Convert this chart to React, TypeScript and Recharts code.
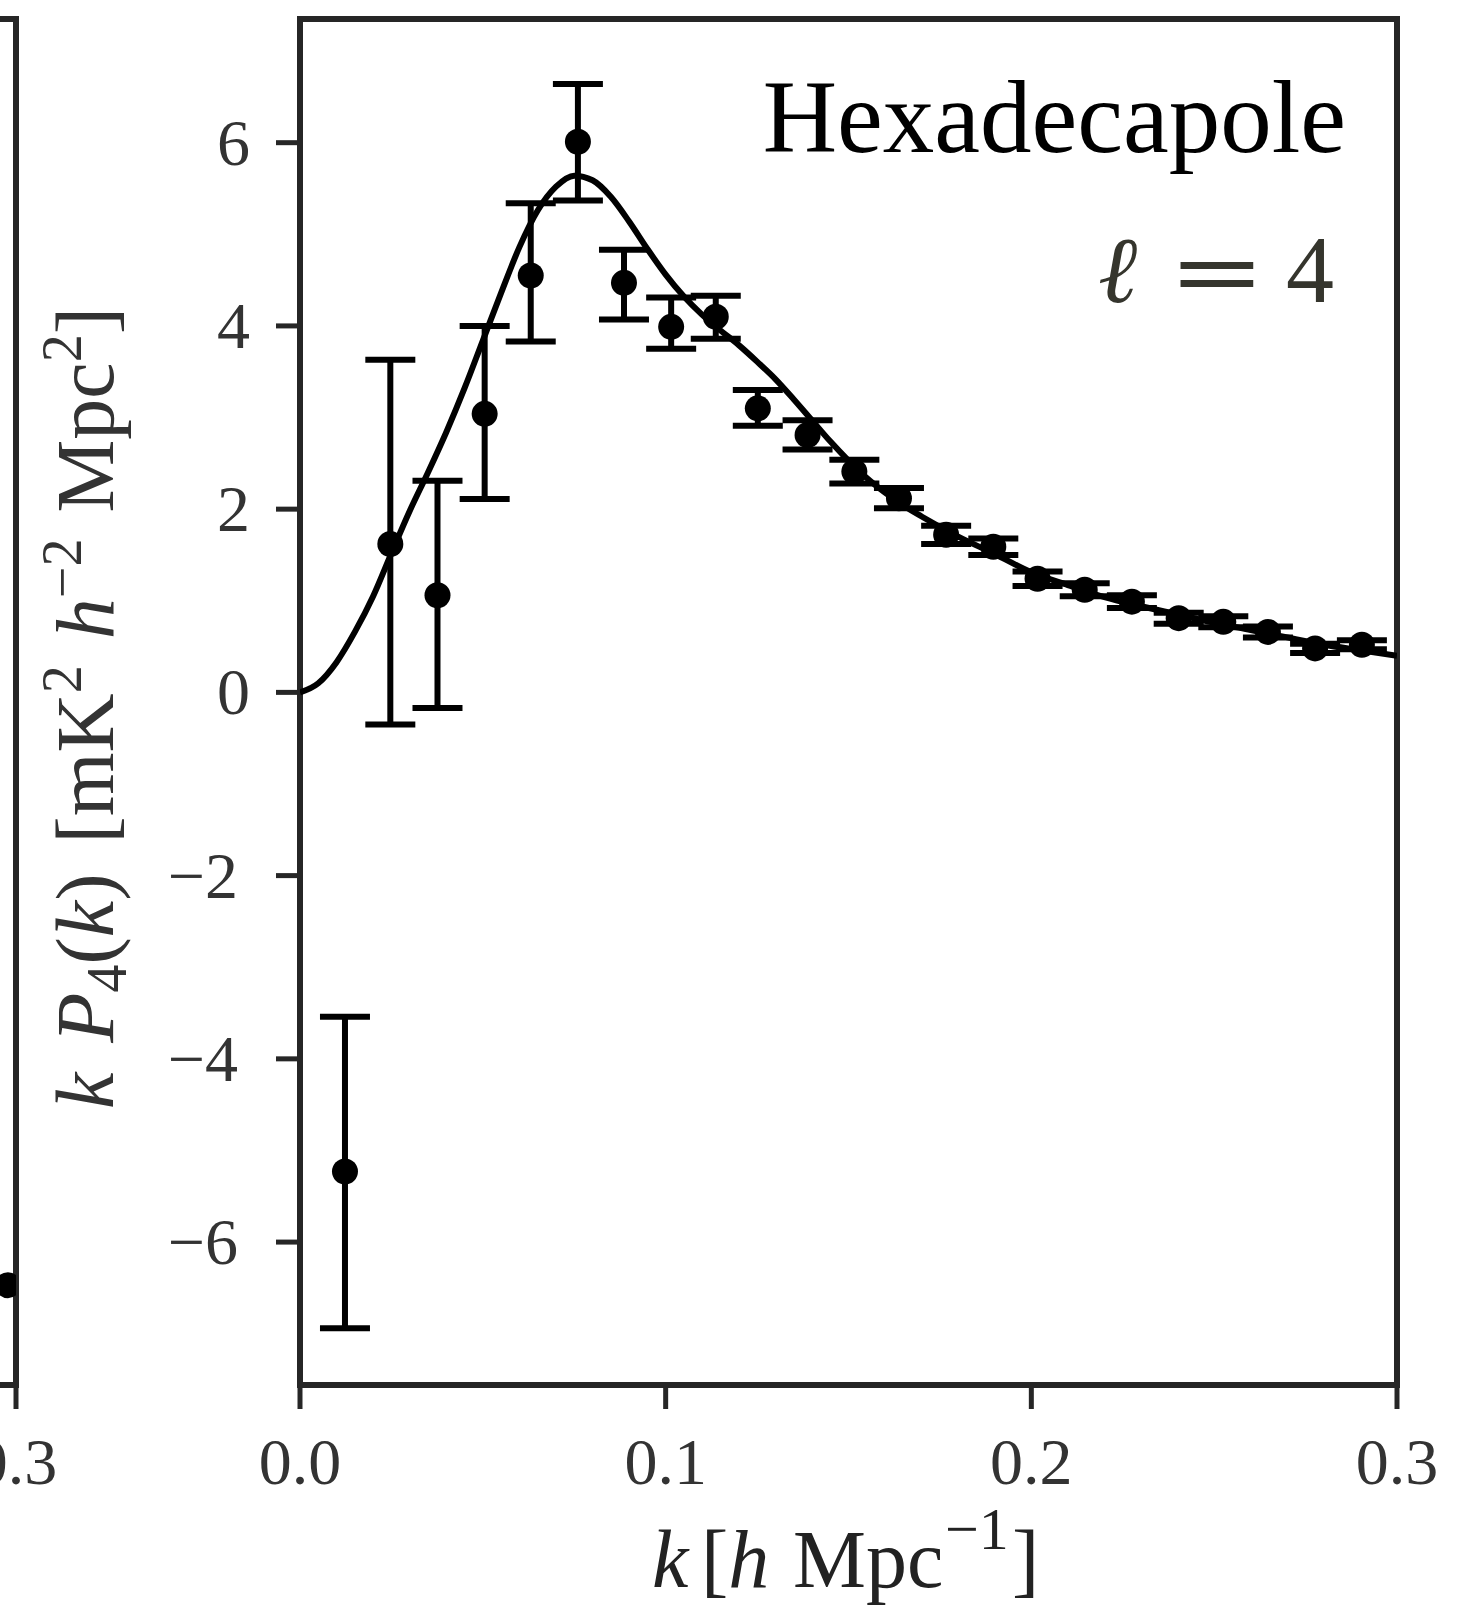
import React from 'react';
import { ComposedChart, Line, Scatter, ErrorBar, XAxis, YAxis, ReferenceArea, Label } from 'recharts';

// measured hexadecapole, k*P4(k)
const kBins = [0.0123, 0.0247, 0.0376, 0.0505, 0.0631, 0.076, 0.0886, 0.1015, 0.1137, 0.1252, 0.1388, 0.1516, 0.1638, 0.1767, 0.1896, 0.2017, 0.2146, 0.2275, 0.2403, 0.2525, 0.2647, 0.2776, 0.2904];
const p4 = [-5.23, 1.62, 1.06, 3.04, 4.55, 6.01, 4.47, 3.99, 4.1, 3.1, 2.81, 2.41, 2.12, 1.72, 1.59, 1.24, 1.12, 0.99, 0.81, 0.77, 0.66, 0.48, 0.52];
const errLow = [1.71, 1.97, 1.23, 0.93, 0.72, 0.64, 0.4, 0.24, 0.24, 0.19, 0.16, 0.13, 0.11, 0.1, 0.09, 0.08, 0.07, 0.07, 0.06, 0.06, 0.06, 0.05, 0.05];
const errHigh = [1.69, 2.01, 1.25, 0.96, 0.79, 0.63, 0.36, 0.32, 0.23, 0.2, 0.16, 0.13, 0.11, 0.1, 0.09, 0.08, 0.07, 0.07, 0.06, 0.06, 0.06, 0.05, 0.05];

// model curve
const modelK = [0, 0.005, 0.01, 0.015, 0.02, 0.025, 0.03, 0.035, 0.04, 0.045, 0.05, 0.055, 0.06, 0.065, 0.07, 0.075, 0.08, 0.085, 0.09, 0.095, 0.1, 0.105, 0.11, 0.115, 0.12, 0.125, 0.13, 0.135, 0.14, 0.145, 0.15, 0.155, 0.16, 0.165, 0.17, 0.18, 0.19, 0.2, 0.21, 0.22, 0.23, 0.24, 0.25, 0.26, 0.27, 0.28, 0.29, 0.3];
const modelP4 = [0, 0.1, 0.33, 0.66, 1.05, 1.52, 1.98, 2.4, 2.84, 3.32, 3.84, 4.36, 4.86, 5.26, 5.52, 5.64, 5.59, 5.41, 5.14, 4.84, 4.56, 4.32, 4.12, 3.95, 3.79, 3.61, 3.42, 3.2, 2.97, 2.74, 2.53, 2.34, 2.18, 2.04, 1.92, 1.7, 1.51, 1.31, 1.17, 1.04, 0.94, 0.85, 0.76, 0.68, 0.6, 0.52, 0.46, 0.4];

// neighbouring panel, only its right edge is in view
const leftK = [0.2978];
const leftP = [-6.47];

const xTicks = [0, 0.1, 0.2, 0.3];
const yTicks = [-6, -4, -2, 0, 2, 4, 6];
const xDomain: [number, number] = [0, 0.3];
const yDomain: [number, number] = [-7.56, 7.35];

const points = kBins.map((k, i) => ({ k, v: p4[i], err: [errLow[i], errHigh[i]] }));
const model = modelK.map((k, i) => ({ k, v: modelP4[i] }));
const leftPoints = leftK.map((k, i) => ({ k, v: leftP[i] }));

const W = 1471;
const H = 1608;
const margin = { top: 19, right: 74, left: 100, bottom: 103 };
const font = 'Liberation Serif, Times New Roman, serif';
const axisColor = '#262626';
const inkColor = '#35352d';

const tickStyle = { fill: '#333', fontSize: 66, fontFamily: font };
const tickLineStyle = { stroke: axisColor, strokeWidth: 5 };

const YTick = (props: any) => {
  const { x, y, payload } = props;
  const v = payload.value;
  const txt = v < 0 ? `\u2212${Math.abs(v)}` : `${v}`;
  return (
    <text x={v < 0 ? x - 12 : x} y={y} dy={22} textAnchor="end" {...tickStyle}>
      {txt}
    </text>
  );
};

const dot = (p: any) => <circle cx={p.cx} cy={p.cy} r={13} fill="#000" />;

const XTitle = () => (
  <text x={652} y={1587} fontFamily={font} fontSize={82} fill="#222">
    <tspan fontStyle="italic">k</tspan>
    <tspan x={701}>[</tspan>
    <tspan fontStyle="italic">h</tspan>
    <tspan x={793}>Mpc</tspan>
    <tspan fontSize={60} dy={-38} x={945}>{'\u22121'}</tspan>
    <tspan dy={38} x={1012}>]</tspan>
  </text>
);

const YTitle = () => (
  <text
    transform="rotate(-90 113 708)"
    x={113}
    y={708}
    textAnchor="middle"
    fontFamily={font}
    fontSize={82}
    fill="#333"
  >
    <tspan fontStyle="italic">k</tspan>
    <tspan dx={30} fontStyle="italic">P</tspan>
    <tspan fontSize={56} dy={13}>4</tspan>
    <tspan dy={-13}>(</tspan>
    <tspan fontStyle="italic">k</tspan>
    <tspan>)</tspan>
    <tspan dx={30}>[mK</tspan>
    <tspan fontSize={56} dy={-32}>2</tspan>
    <tspan dx={26} dy={32} fontStyle="italic">h</tspan>
    <tspan fontSize={56} dy={-32}>{'\u22122'}</tspan>
    <tspan dx={26} dy={32}>Mpc</tspan>
    <tspan fontSize={56} dy={-32}>2</tspan>
    <tspan dy={32}>]</tspan>
  </text>
);

const App: React.FC = () => {
  return (
    <div style={{ position: 'absolute', left: 0, top: 0, width: W, height: H, overflow: 'hidden', background: '#fff' }}>
      {/* left neighbour panel edge */}
      <div style={{ position: 'absolute', left: 16 - 1397, top: 0 }}>
        <ComposedChart width={W} height={H} margin={margin}>
          <XAxis
            type="number"
            dataKey="k"
            domain={xDomain}
            ticks={[0.3]}
            allowDataOverflow
            axisLine={false}
            tickSize={24}
            tickMargin={28}
            tickLine={tickLineStyle}
            tick={tickStyle}
            tickFormatter={(v: number) => v.toFixed(1)}
            height={120}
          />
          <YAxis type="number" dataKey="v" domain={yDomain} allowDataOverflow width={200} tick={false} axisLine={false} tickLine={false} />
          <ReferenceArea x1={0} x2={0.3} y1={yDomain[0]} y2={yDomain[1]} fill="none" stroke={axisColor} strokeWidth={6} ifOverflow="visible" />
          <Scatter data={leftPoints} dataKey="v" shape={dot} isAnimationActive={false} />
        </ComposedChart>
      </div>

      <div style={{ position: 'absolute', left: 0, top: 0 }}>
        <ComposedChart width={W} height={H} margin={margin}>
          <XAxis
            type="number"
            dataKey="k"
            domain={xDomain}
            ticks={xTicks}
            allowDataOverflow
            axisLine={false}
            tickSize={24}
            tickMargin={28}
            tickLine={tickLineStyle}
            tick={tickStyle}
            tickFormatter={(v: number) => v.toFixed(1)}
            height={120}
          >
            <Label content={XTitle} />
          </XAxis>
          <YAxis
            type="number"
            dataKey="v"
            domain={yDomain}
            ticks={yTicks}
            allowDataOverflow
            axisLine={false}
            tickSize={24}
            tickMargin={26}
            tickLine={tickLineStyle}
            tick={YTick}
            width={200}
          >
            <Label content={YTitle} />
          </YAxis>
          <ReferenceArea x1={0} x2={0.3} y1={yDomain[0]} y2={yDomain[1]} fill="none" stroke={axisColor} strokeWidth={6} ifOverflow="visible" />
          <Line data={model} dataKey="v" type="monotone" stroke="#000" strokeWidth={6} dot={false} activeDot={false} isAnimationActive={false} />
          <Scatter data={points} dataKey="v" shape={dot} isAnimationActive={false}>
            <ErrorBar dataKey="err" direction="y" width={25} stroke="#000" strokeWidth={6} />
          </Scatter>
        </ComposedChart>
      </div>

      <svg width={W} height={H} style={{ position: 'absolute', left: 0, top: 0, pointerEvents: 'none' }}>
        <text x={1346} y={152} textAnchor="end" fontFamily={font} fontSize={103} fill="#000">
          Hexadecapole
        </text>
        <text x={1098} y={302} fontFamily="DejaVu Serif, serif" fontStyle="italic" fontSize={94} fill={inkColor}>
          {'\u2113'}
        </text>
        <text transform="translate(1217 302) scale(1.32 1)" x={0} y={0} textAnchor="middle" fontFamily="DejaVu Serif, serif" fontSize={88} fill={inkColor}>
          =
        </text>
        <text x={1310} y={302} textAnchor="middle" fontFamily={font} fontSize={96} fill={inkColor}>
          4
        </text>
      </svg>
    </div>
  );
};

export default App;
